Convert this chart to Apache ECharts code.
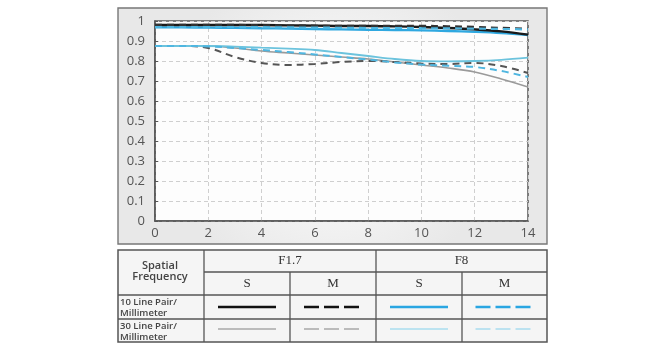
<!DOCTYPE html>
<html><head><meta charset="utf-8">
<script src="https://cdn.jsdelivr.net/npm/echarts@6/dist/echarts.min.js"></script>
<style>html,body{margin:0;padding:0;background:#fff}#c{width:650px;height:350px}</style>
</head><body><div id="c"></div>
<script>
const xValues = [0,1,2,3,4,5,6,7,8,9,10,11,12,13,14];
const f17S10 = [0.98,0.98,0.98,0.98,0.98,0.978,0.977,0.975,0.975,0.973,0.97,0.965,0.958,0.948,0.932];
const f17M10 = [0.98,0.98,0.98,0.98,0.978,0.977,0.976,0.975,0.975,0.975,0.975,0.973,0.97,0.965,0.96];
const f8S10 = [0.968,0.968,0.967,0.966,0.964,0.962,0.96,0.958,0.956,0.955,0.953,0.95,0.946,0.94,0.93];
const f8M10 = [0.97,0.97,0.97,0.97,0.969,0.968,0.967,0.966,0.965,0.965,0.964,0.963,0.962,0.96,0.958];
const f17S30 = [0.875,0.875,0.875,0.865,0.85,0.84,0.83,0.82,0.81,0.795,0.78,0.765,0.745,0.71,0.67];
const f17M30 = [0.875,0.875,0.865,0.82,0.79,0.78,0.785,0.795,0.8,0.795,0.787,0.785,0.79,0.775,0.74];
const f8S30 = [0.875,0.875,0.875,0.872,0.867,0.862,0.855,0.84,0.825,0.81,0.8,0.798,0.8,0.806,0.817];
const f8M30 = [0.875,0.875,0.873,0.865,0.855,0.845,0.833,0.82,0.807,0.793,0.782,0.776,0.77,0.75,0.72];
const yTicks = ['0','0.1','0.2','0.3','0.4','0.5','0.6','0.7','0.8','0.9','1'];
const apertures = ['F1.7','F8'];
const modes = ['S','M'];
const rowLabels = [['10 Line Pair/','Millimeter'],['30 Line Pair/','Millimeter']];

const styles = [
  {data:f17S30, color:'#9a9a9a', width:1.6, dash:'solid'},
  {data:f17M30, color:'#555555', width:2, dash:[7,5]},
  {data:f8S30, color:'#6cc3dd', width:1.8, dash:'solid'},
  {data:f8M30, color:'#4fb6e0', width:2, dash:[7,5]},
  {data:f8S10, color:'#2fa8e0', width:2.4, dash:'solid'},
  {data:f17S10, color:'#1a1a1a', width:2.4, dash:'solid'},
  {data:f17M10, color:'#333333', width:2.4, dash:[7,5]},
  {data:f8M10, color:'#4fb6e0', width:2.2, dash:[7,5]}
];

const series = styles.map(s => ({
  type:'line', smooth:0.35, showSymbol:false, silent:true,
  data: xValues.map((x,i)=>[x, s.data[i]]),
  lineStyle:{color:s.color, width:s.width, type:s.dash}
}));

const T = {x0:118, x1:547, y0:250, rows:[250,272,295,319,342], cols:[118,204,290,376,462,547]};
const g = [];
g.push({type:'rect', z:-10, shape:{x:118,y:8,width:429,height:236},
  style:{fill:{type:'radial',x:0.5,y:0.5,r:0.7,colorStops:[{offset:0,color:'#ffffff'},{offset:1,color:'#e8e8e8'}]}, stroke:'#777', lineWidth:1.4}});
g.push({type:'rect', z:-10, shape:{x:T.x0,y:T.y0,width:T.x1-T.x0,height:T.rows[4]-T.y0},
  style:{fill:'#f5f5f5', stroke:'#555', lineWidth:1.5}});
const lineC = '#555';
function L(x1,y1,x2,y2,w){g.push({type:'line', shape:{x1,y1,x2,y2}, style:{stroke:lineC, lineWidth:w||1.3}});}
L(204,T.rows[1],547,T.rows[1]);
L(118,T.rows[2],547,T.rows[2]);
L(118,T.rows[3],547,T.rows[3]);
L(204,250,204,342); L(376,250,376,342);
L(290,272,290,342); L(462,272,462,342);
function txt(x,y,t,opt){g.push({type:'text', x, y, style:Object.assign({text:t, fill:'#333', font:'13px "Liberation Serif", serif', textAlign:'center', textVerticalAlign:'middle'}, opt||{})});}
txt(160,266,'Spatial',{font:'600 11px "Open Sans", sans-serif', fill:'#444'});
txt(160,277,'Frequency',{font:'600 11px "Open Sans", sans-serif', fill:'#444'});
apertures.forEach((a,i)=>txt((T.cols[1+2*i]+T.cols[3+2*i])/2, 261, a));
[0,1,2,3].forEach(i=>txt((T.cols[1+i]+T.cols[2+i])/2, 284, modes[i%2]));
rowLabels.forEach((r,i)=>{
  txt(120, T.rows[2+i]+7, r[0], {font:'600 9.5px "Open Sans", sans-serif', textAlign:'left', fill:'#444'});
  txt(120, T.rows[2+i]+18, r[1], {font:'600 9.5px "Open Sans", sans-serif', textAlign:'left', fill:'#444'});
});
const leg10 = [
  {color:'#111', w:2.5, dash:null},
  {color:'#111', w:2.5, dash:[15,5]},
  {color:'#2aa6e2', w:2.5, dash:null},
  {color:'#2aa6e2', w:2.5, dash:[15,5]}
];
const leg30 = [
  {color:'#a8a8a8', w:1.3, dash:null},
  {color:'#a8a8a8', w:1.3, dash:[15,5]},
  {color:'#a9dcee', w:1.3, dash:null},
  {color:'#a9dcee', w:1.3, dash:[15,5]}
];
[leg10,leg30].forEach((row,ri)=>{
  const y = ri===0 ? 307 : 329;
  row.forEach((s,ci)=>{
    const cx = (T.cols[1+ci]+T.cols[2+ci])/2;
    g.push({type:'line', shape:{x1:cx-29,y1:y,x2:cx+29,y2:y}, style:{stroke:s.color, lineWidth:s.w, lineDash:s.dash}});
  });
});

const chart = echarts.init(document.getElementById('c'));
chart.setOption({
  animation:false,
  backgroundColor:'#ffffff',
  grid:{left:155, right:122, top:21, bottom:129, show:true, borderColor:'#555', borderWidth:1.5, backgroundColor:'#fdfdfd'},
  xAxis:{type:'value', min:0, max:14, interval:2,
    axisLine:{show:true, lineStyle:{color:'#555', width:1.5}},
    axisTick:{show:false},
    axisLabel:{color:'#555', fontSize:13, fontFamily:'"Open Sans", sans-serif', margin:6},
    splitLine:{show:true, lineStyle:{color:'#cfcfcf', type:[4,3]}}},
  yAxis:{type:'value', min:0, max:1, interval:0.1,
    axisLine:{show:true, lineStyle:{color:'#555', width:1.5}},
    axisTick:{show:true, inside:true, length:3, lineStyle:{color:'#555'}},
    axisLabel:{color:'#555', fontSize:13, fontFamily:'"Open Sans", sans-serif', margin:10,
      formatter:(v)=>yTicks[Math.round(v*10)]},
    splitLine:{show:true, lineStyle:{color:'#cfcfcf', type:[4,3]}}},
  series,
  graphic:g
});
</script></body></html>
